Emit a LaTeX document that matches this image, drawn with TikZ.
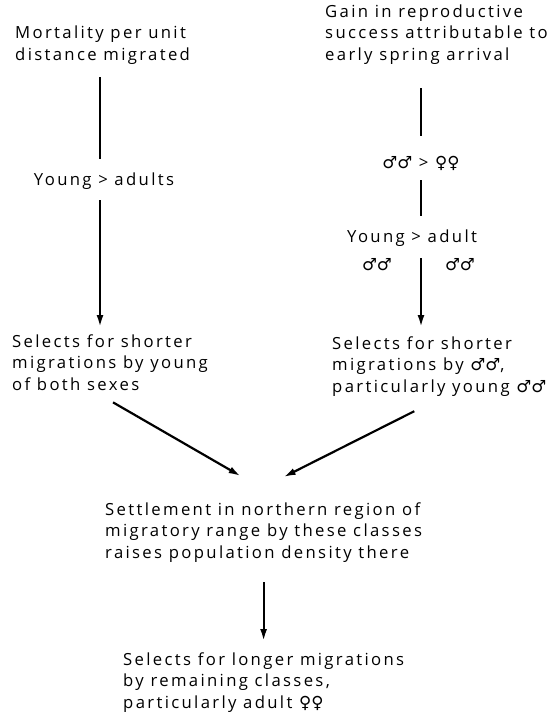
\documentclass[tikz,border=0pt]{standalone}
\usepackage{fontspec}
\setmainfont{Open Sans}[LetterSpace=14]
\newfontfamily\symfont{DejaVu Sans}
\usetikzlibrary{arrows.meta}
\newcommand{\msym}{{\symfont ♂♂}}
\newcommand{\fsym}{{\symfont ♀♀}}

\begin{document}
\begin{tikzpicture}[x=1pt, y=-1pt, font=\fontsize{16.7}{21.5}\selectfont,
    txt/.style={align=left, inner sep=0pt, anchor=base west},
    link/.style={line width=2.2pt},
    arr/.style={link, -{Latex[length=12pt, width=7pt]}}]
  \useasboundingbox (0,0) rectangle (554,717);
  % left branch: mortality (placed by the baseline of the last line)
  \node[txt] (mort) at (15,60) {Mortality per unit\\distance migrated};
  \node[txt, anchor=base] (youngA) at (104,185) {Young > adults};
  \node[txt] (shortA) at (12,390) {Selects for shorter\\migrations by young\\of both sexes};
  % right branch: early arrival
  \node[txt] (gain) at (325,60) {Gain in reproductive\\success attributable to\\early spring arrival};
  \node[txt, anchor=base] (sexes) at (421,168) {\msym{} > \fsym};
  \node[txt] (youngB) at (347,242) {Young > adult};
  \node[txt, anchor=base] (maleA) at (377,270) {\msym};
  \node[txt, anchor=base] (maleB) at (460,270) {\msym};
  \node[txt] (shortB) at (332,392) {Selects for shorter\\migrations by \msym,\\particularly young \msym};
  % joint outcome
  \node[txt] (settle) at (105,558) {Settlement in northern region of\\migratory range by these classes\\raises population density there};
  \node[txt] (longer) at (123,708) {Selects for longer migrations\\by remaining classes,\\particularly adult \fsym};
  \coordinate (colA) at (100,0);
  \coordinate (colB) at (421,0);
  % links
  \draw[link, shorten <=13pt, shorten >=13pt] (mort.south -| colA) -- (youngA.north -| colA);
  \draw[arr, shorten <=11pt, shorten >=7pt] (youngA.south -| colA) -- (shortA.north -| colA);
  \draw[link, shorten <=24pt, shorten >=20pt] (gain.south -| colB) -- (sexes.north -| colB);
  \draw[link, shorten <=10pt, shorten >=13pt] (sexes.south -| colB) -- (youngB.north -| colB);
  \draw[arr, shorten <=12pt, shorten >=9pt] (youngB.south -| colB) -- (shortB.north -| colB);
  \draw[arr] ([xshift=3pt, yshift=-12pt]shortA.south) -- ([xshift=-23pt, yshift=26pt]settle.north);
  \draw[arr] ([xshift=-25pt, yshift=-15pt]shortB.south) -- ([xshift=20pt, yshift=25pt]settle.north);
  \draw[arr, shorten <=20pt, shorten >=11pt] (settle.south) -- (longer.north -| settle.south);
\end{tikzpicture}
\end{document}
